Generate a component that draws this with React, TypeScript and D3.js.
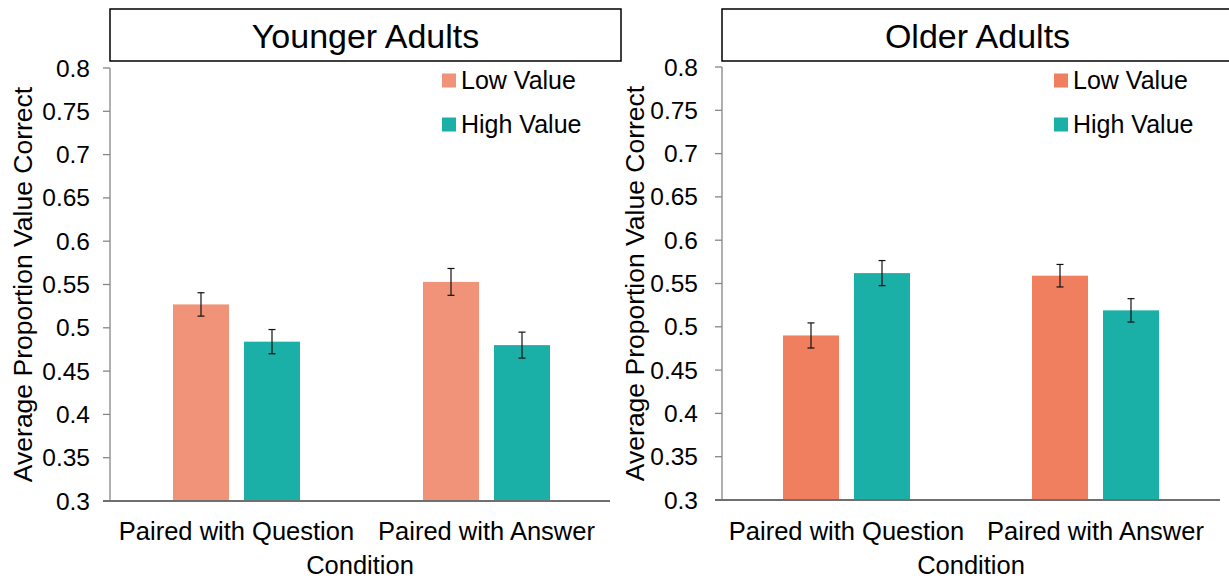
import React from "react";
import * as d3 from "d3";

const categories = ["Paired with Question", "Paired with Answer"];
const seriesNames = ["Low Value", "High Value"];
const panelTitles = ["Younger Adults", "Older Adults"];
const yTicks = [0.3, 0.35, 0.4, 0.45, 0.5, 0.55, 0.6, 0.65, 0.7, 0.75, 0.8];

const youngerLow = [0.527, 0.553];
const youngerLowErr = [0.0135, 0.0155];
const youngerHigh = [0.484, 0.48];
const youngerHighErr = [0.014, 0.015];

const olderLow = [0.49, 0.559];
const olderLowErr = [0.0145, 0.013];
const olderHigh = [0.562, 0.519];
const olderHighErr = [0.0145, 0.0135];

const W = 1229;
const H = 578;
const FONT = "'Liberation Sans', Arial, Helvetica, sans-serif";

type PanelProps = {
  left: number;
  right: number;
  top: number;
  bottom: number;
  title: string;
  low: number[];
  lowErr: number[];
  high: number[];
  highErr: number[];
  lowColor: string;
  labelGap: number;
  bandShift: number;
};

function Panel(p: PanelProps) {
  const x = d3
    .scaleBand<string>()
    .domain(categories)
    .range([p.left + p.bandShift, p.right + p.bandShift])
    .padding(0);
  const inner = d3
    .scaleBand<string>()
    .domain(seriesNames)
    .range([-63.5, 63.5])
    .paddingInner(15 / 71)
    .paddingOuter(0);
  const y = d3.scaleLinear().domain([0.3, 0.8]).range([p.bottom, p.top]);
  const fmt = d3.format(".2~f");
  const colors = [p.lowColor, "#1AB0A8"];
  const vals = [p.low, p.high];
  const errs = [p.lowErr, p.highErr];
  const axisColor = "#868686";
  const cx = (p.left + p.right) / 2;
  const midY = (p.top + p.bottom) / 2;

  return (
    <g>
      {/* title box */}
      <rect x={p.left} y={9} width={511} height={52} fill="white" stroke="black" strokeWidth={1.5} />
      <text x={p.left + 255.5} y={36} textAnchor="middle" dominantBaseline="central" fontSize={34} fontFamily={FONT} fill="black">
        {p.title}
      </text>

      {/* bars */}
      {seriesNames.map((s, si) =>
        categories.map((c, ci) => {
          const xc = (x(c) as number) + x.bandwidth() / 2 + (inner(s) as number);
          const v = vals[si][ci];
          return (
            <rect key={s + c} x={xc} y={y(v)} width={inner.bandwidth()} height={y(0.3) - y(v)} fill={colors[si]} />
          );
        })
      )}

      {/* error bars */}
      {seriesNames.map((s, si) =>
        categories.map((c, ci) => {
          const xm = (x(c) as number) + x.bandwidth() / 2 + (inner(s) as number) + inner.bandwidth() / 2;
          const v = vals[si][ci];
          const e = errs[si][ci];
          return (
            <g key={"e" + s + c} stroke="#111" strokeWidth={1.2}>
              <line x1={xm} x2={xm} y1={y(v + e)} y2={y(v - e)} />
              <line x1={xm - 3.5} x2={xm + 3.5} y1={y(v + e)} y2={y(v + e)} />
              <line x1={xm - 3.5} x2={xm + 3.5} y1={y(v - e)} y2={y(v - e)} />
            </g>
          );
        })
      )}

      {/* y axis */}
      <line x1={p.left} x2={p.left} y1={y(0.8)} y2={y(0.3)} stroke={axisColor} strokeWidth={1.3} />
      {yTicks.map((t) => (
        <g key={t}>
          <line x1={p.left - 7} x2={p.left} y1={y(t)} y2={y(t)} stroke={axisColor} strokeWidth={1.3} />
          <text x={p.left - p.labelGap} y={y(t)} textAnchor="end" dominantBaseline="central" fontSize={24.5} fontFamily={FONT} fill="black">
            {fmt(t)}
          </text>
        </g>
      ))}
      {/* baseline */}
      <line x1={p.left - 7} x2={p.right} y1={y(0.3)} y2={y(0.3)} stroke="#6f6f6f" strokeWidth={2} />

      {/* category labels */}
      {categories.map((c) => (
        <text key={c} x={(x(c) as number) + x.bandwidth() / 2} y={531} textAnchor="middle" dominantBaseline="central" fontSize={25.5} fontFamily={FONT} fill="black">
          {c}
        </text>
      ))}
      <text x={cx} y={565} textAnchor="middle" dominantBaseline="central" fontSize={25.5} fontFamily={FONT} fill="black">
        Condition
      </text>

      {/* y title */}
      <text
        transform={`translate(${p.left - 87},${midY}) rotate(-90)`}
        textAnchor="middle"
        dominantBaseline="central"
        fontSize={26.5}
        fontFamily={FONT}
        fill="black"
      >
        Average Proportion Value Correct
      </text>

      {/* legend */}
      {seriesNames.map((s, si) => (
        <g key={"l" + s}>
          <rect x={p.left + 332} y={73.5 + si * 44} width={14} height={14} fill={colors[si]} />
          <text x={p.left + 351} y={80} dy={si * 44} dominantBaseline="central" fontSize={25} fontFamily={FONT} fill="black">
            {s}
          </text>
        </g>
      ))}
    </g>
  );
}

export default function App() {
  return (
    <svg width={W} height={H} style={{ position: "absolute", left: 0, top: 0, background: "white" }}>
      <rect x={0} y={0} width={W} height={H} fill="white" />
      <Panel
        left={110}
        right={610}
        top={68}
        bottom={501}
        title={panelTitles[0]}
        low={youngerLow}
        lowErr={youngerLowErr}
        high={youngerHigh}
        highErr={youngerHighErr}
        lowColor="#F09378"
        labelGap={20}
        bandShift={1.5}
      />
      <Panel
        left={722}
        right={1220}
        top={67}
        bottom={500}
        title={panelTitles[1]}
        low={olderLow}
        lowErr={olderLowErr}
        high={olderHigh}
        highErr={olderHighErr}
        lowColor="#EF7F5F"
        labelGap={24}
        bandShift={0}
      />
    </svg>
  );
}
